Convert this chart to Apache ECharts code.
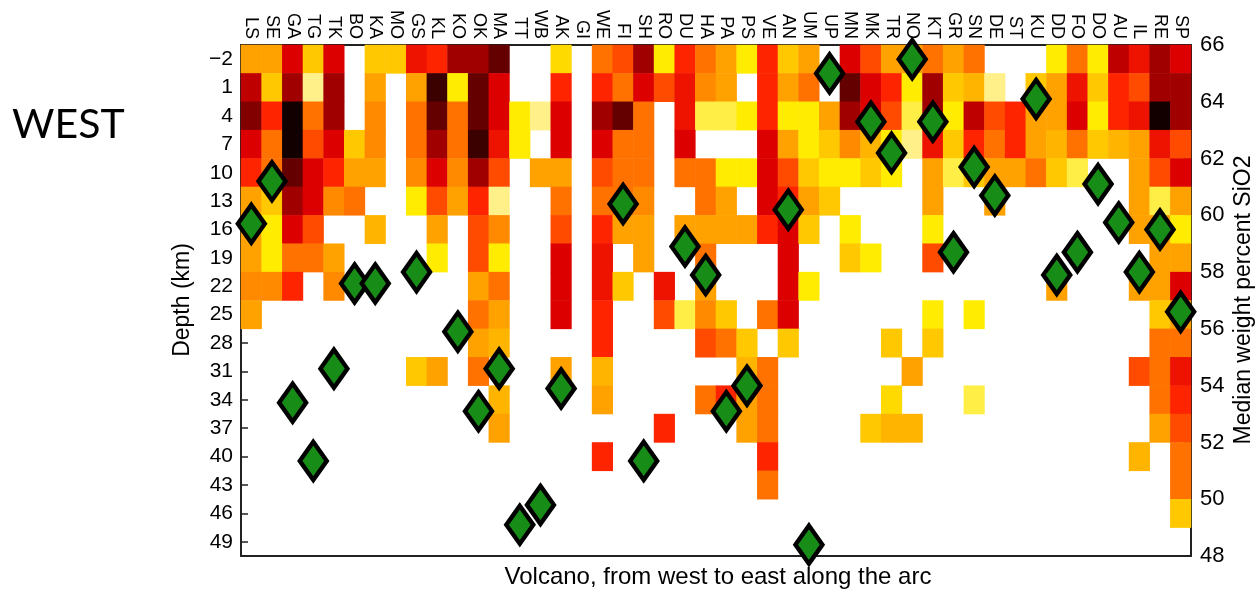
<!DOCTYPE html>
<html>
<head>
<meta charset="utf-8">
<script src="https://cdn.jsdelivr.net/npm/echarts@6/dist/echarts.min.js"></script>
<style>
html,body{margin:0;padding:0;background:#fff;}
#chart{width:1257px;height:590px;}
</style>
</head>
<body>
<div id="chart"></div>
<script>
// Volcano codes, west to east
var volcanoes = ['LS','SE','GA','TG','TK','BO','KA','MO','GS','KL','KO','OK','MA','TT','WB','AK','GI','WE','FI','SH','RO','DU','HA','PA','PS','VE','AN','UM','UP','MN','MK','TR','NO','KT','GR','SN','DE','ST','KU','DD','FO','DO','AU','IL','RE','SP'];
// Depth rows (km)
var depths = ['\u22122','1','4','7','10','13','16','19','22','25','28','31','34','37','40','43','46','49'];
// Median SiO2 (wt%) per volcano, null where not plotted
var sio2 = [59.7,61.2,53.4,51.35,54.6,57.6,57.6,null,58.0,null,55.9,53.1,54.6,49.1,49.8,53.9,null,null,60.4,51.35,null,58.9,57.9,53.1,54.0,null,60.2,48.4,65.0,null,63.3,62.2,65.5,63.3,58.7,61.7,60.7,null,64.1,57.9,58.7,61.1,59.75,58.0,59.5,56.6];
// Heat levels per depth row (0 = empty), one entry per volcano
var row_m2 = [4,4,7,3,7,0,3,3,6.5,6,8,8,9,0,0,2.5,0,5,5.5,8,2,6,5,4,2,6,3,4,0,7,5.5,4,4,5,4,5,0,0,0,2,5,2,7.5,6.5,8,7];
var row_1  = [7.5,3,8,1,8,0,4,0,4,9.5,2,9,7,0,0,6,0,6,5,7,5.5,6.5,4.5,4,0,6,4,5,0,9,7,6,2,8,3,3.5,1,0,3,4,6.5,3,6,5.5,8,8];
var row_4  = [8.5,6,10,5,8,0,4.5,0,5,9,5,9,7,2,1,7,0,8,9,5,0,6.5,1.5,1.5,2,6,2,2,4,8,7,5.5,1.5,8,2,7.5,5.5,6,4,4,7,2,6,6.5,10,8];
var row_7  = [7,5,10,5.5,7,3,4.5,0,5,8,5,9.5,6.5,2,0,7,0,7,5,5,0,7,0,0,0,7,4,2,3,4.5,3.5,2,1,6.5,3,6,5,6,4,3.5,5,3,3.5,4,6.5,5.5];
var row_10 = [6,5,9,7,6,4,4,0,4.5,7,4.5,8,5.5,0,4,4,0,5.5,5,5,0,5,5,2,2,7,5.5,3,2,2,3,2,0,4,1.5,3,4,4,5,3,1.5,0,0,4,5.5,7];
var row_13 = [4,3,8,7,4.5,5,0,0,2,5.5,4,6,1,0,0,5,0,5,5,4.5,0,0,5,4,0,7,6,4,3,0,0,0,0,4,0,0,4,0,0,0,0,0,0,4,1.5,4];
var row_16 = [4,2,7,5.5,0,0,3.5,0,0,4,0,5.5,4.5,0,0,5.5,0,6,4,4,0,4,4,4,4,6,7,3,0,2,0,0,0,2,0,0,0,0,0,0,0,0,0,4,4,2];
var row_19 = [4,2,5,5,4,0,0,0,0,2,0,5.5,2,0,0,7,0,6.5,0,4,0,0,5,0,0,0,7,0,0,3,2,0,0,5.5,0,0,0,0,0,0,0,0,0,0,4,4];
var row_22 = [4.5,4.5,6,0,4.5,0,0,0,0,0,0,4,5,0,0,7,0,6.5,3,0,6.5,0,4,0,0,0,7,2,0,0,0,0,0,0,0,0,0,0,0,4,0,0,0,4,4,7];
var row_25 = [4,0,0,0,0,0,0,0,0,0,0,5,4,0,0,7,0,6,0,0,5.5,1.5,4.5,3,0,5,7,0,0,0,0,0,0,2,0,2,0,0,0,0,0,0,0,0,3,4];
var row_28 = [0,0,0,0,0,0,0,0,0,0,0,4,3.5,0,0,0,0,6,0,0,0,0,5.5,5,3,0,3,0,0,0,0,3,0,3,0,0,0,0,0,0,0,0,0,0,5,5];
var row_31 = [0,0,0,0,0,0,0,0,3,4,0,5,0,0,0,4,0,3.5,0,0,0,0,0,0,3.5,5,0,0,0,0,0,0,4,0,0,0,0,0,0,0,0,0,0,5.5,5,6.5];
var row_34 = [0,0,0,0,0,0,0,0,0,0,0,0,3.5,0,0,0,0,4,0,0,0,0,5,6,4,5,0,0,0,0,0,2.5,0,0,0,1.5,0,0,0,0,0,0,0,0,5,6];
var row_37 = [0,0,0,0,0,0,0,0,0,0,0,0,4,0,0,0,0,0,0,0,6,0,0,0,4,5,0,0,0,0,3,3.5,3.5,0,0,0,0,0,0,0,0,0,0,0,4,5.5];
var row_40 = [0,0,0,0,0,0,0,0,0,0,0,0,0,0,0,0,0,6,0,0,0,0,0,0,0,6,0,0,0,0,0,0,0,0,0,0,0,0,0,0,0,0,0,3.5,0,5];
var row_43 = [0,0,0,0,0,0,0,0,0,0,0,0,0,0,0,0,0,0,0,0,0,0,0,0,0,5,0,0,0,0,0,0,0,0,0,0,0,0,0,0,0,0,0,0,0,5];
var row_46 = [0,0,0,0,0,0,0,0,0,0,0,0,0,0,0,0,0,0,0,0,0,0,0,0,0,0,0,0,0,0,0,0,0,0,0,0,0,0,0,0,0,0,0,0,0,3];
var row_49 = [0,0,0,0,0,0,0,0,0,0,0,0,0,0,0,0,0,0,0,0,0,0,0,0,0,0,0,0,0,0,0,0,0,0,0,0,0,0,0,0,0,0,0,0,0,0];
var heatRows = [row_m2,row_1,row_4,row_7,row_10,row_13,row_16,row_19,row_22,row_25,row_28,row_31,row_34,row_37,row_40,row_43,row_46,row_49];
// Colour ramp (reversed "hot")
var hotColors = ['#fff08a','#ffec00','#ffc800','#ffa200','#ff7200','#ff2400','#dc0000','#a00000','#640000','#120000'];

var heatData = [];
heatRows.forEach(function(row, r){
  row.forEach(function(v, c){ if (v > 0) heatData.push([c, r, v]); });
});
var diamondData = [];
sio2.forEach(function(v, i){ if (v !== null) diamondData.push([i, v]); });

var FONT = 'Liberation Sans, Arial, sans-serif';
var chart = echarts.init(document.getElementById('chart'), null, {renderer:'canvas'});
chart.setOption({
  animation: false,
  backgroundColor: '#fff',
  grid: {left: 241, top: 45, width: 950, height: 511, containLabel: false},
  xAxis: [
    {type:'category', data: volcanoes, position:'top', gridIndex:0,
     axisLine:{show:true, lineStyle:{color:'#222', width:2}},
     axisTick:{show:false},
     axisLabel:{rotate:90, interval:0, fontSize:18, color:'#000', fontFamily:FONT, margin:6},
     splitLine:{show:false}},
    {type:'category', data: volcanoes, position:'bottom', gridIndex:0,
     axisLine:{show:true, lineStyle:{color:'#222', width:2}},
     axisTick:{show:false}, axisLabel:{show:false}, splitLine:{show:false}}
  ],
  yAxis: [
    {type:'category', data: depths, inverse:true, position:'left',
     axisLine:{show:true, lineStyle:{color:'#222', width:2}},
     axisTick:{show:true, inside:true, alignWithLabel:true, interval:0, length:7, lineStyle:{color:'#222', width:1.5}},
     axisLabel:{interval:0, fontSize:21, color:'#000', fontFamily:FONT, margin:8},
     splitLine:{show:false}},
    {type:'value', min:48, max:66, interval:2, position:'right',
     axisLine:{show:true, lineStyle:{color:'#222', width:2}},
     axisTick:{show:true, inside:true, length:7, lineStyle:{color:'#222', width:1.5}},
     axisLabel:{fontSize:22, color:'#000', fontFamily:FONT, margin:9},
     splitLine:{show:false}}
  ],
  visualMap: {type:'continuous', min:1, max:10, show:false, seriesIndex:0, dimension:2,
              inRange:{color: hotColors}},
  graphic: [
    {type:'text', left:12, top:104, style:{text:'WEST', font:'41px Lato, Liberation Sans, sans-serif', fill:'#000'}},
    {type:'text', x:183, y:300, rotation:Math.PI/2,
     style:{text:'Depth (km)', font:'23px '+FONT, fill:'#000', align:'center', verticalAlign:'middle'}},
    {type:'text', x:1244, y:300, rotation:Math.PI/2,
     style:{text:'Median weight percent SiO2', font:'23px '+FONT, fill:'#000', align:'center', verticalAlign:'middle'}},
    {type:'text', x:718, y:577,
     style:{text:'Volcano, from west to east along the arc', font:'24px '+FONT, fill:'#000', align:'center', verticalAlign:'middle'}}
  ],
  series: [
    {type:'heatmap', xAxisIndex:0, yAxisIndex:0, data: heatData, progressive:0,
     itemStyle:{borderWidth:0}, emphasis:{disabled:true}},
    {type:'scatter', xAxisIndex:0, yAxisIndex:1, data: diamondData, symbol:'diamond',
     symbolSize:[27,38], z:5,
     itemStyle:{color:'#178c17', borderColor:'#000', borderWidth:4.5, opacity:1},
     emphasis:{disabled:true}}
  ]
});
</script>
</body>
</html>
